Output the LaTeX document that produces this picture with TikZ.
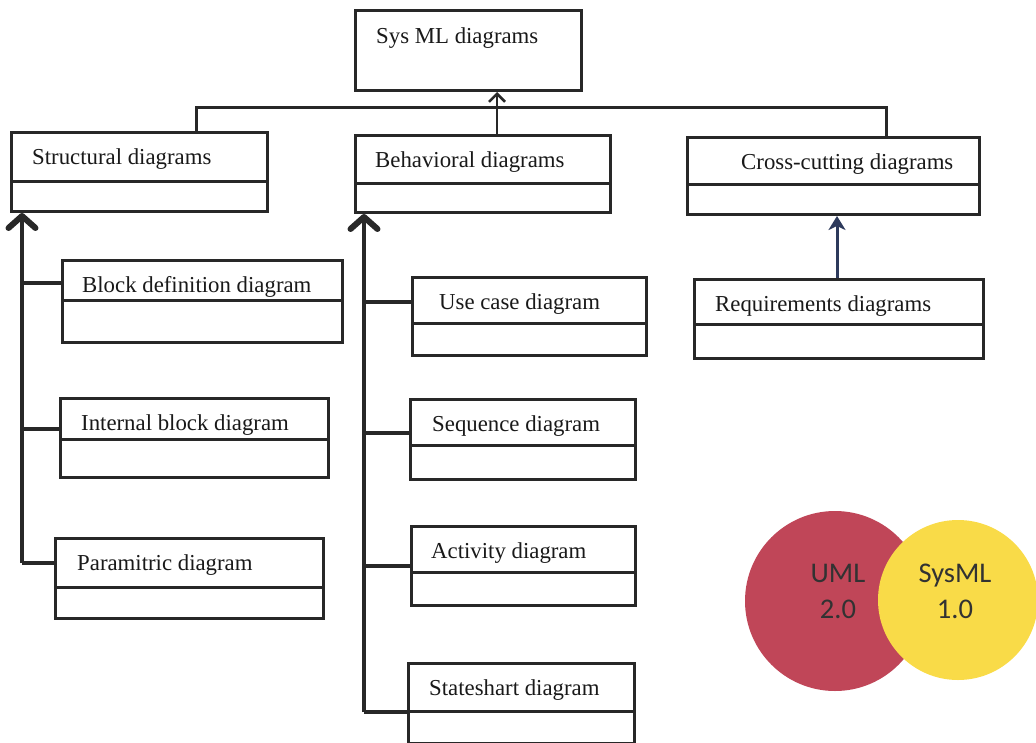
\documentclass[tikz,border=0pt]{standalone}
\usepackage{fontspec}
\setmainfont{Liberation Serif}
\newfontfamily\calibrifont{Carlito}
\usetikzlibrary{arrows.meta}

\definecolor{ink}{RGB}{40,40,40}
\definecolor{navyline}{RGB}{45,58,92}
\definecolor{umlred}{RGB}{192,70,88}
\definecolor{sysyellow}{RGB}{249,219,72}
\definecolor{circtext}{RGB}{50,50,50}

% class box: name, left, top, right, divider, bottom, text offset, label
\newcommand{\classbox}[8]{%
  \node[cls, minimum width={(#4-#2)*1pt}, minimum height={(#6-#3)*1pt}] (#1) at (#2,#3) {};
  \draw[divline] (#1.west |- 0,#5) -- (#1.east |- 0,#5);
  \node[lbl] (#1-t) at ({#2+#7},{#3+33}) {#8};
}

\begin{document}
\begin{tikzpicture}[x=1pt,y=-1pt,
  cls/.style={draw=ink, line width=3pt, anchor=north west, inner sep=0pt, fill=white},
  divline/.style={draw=ink, line width=3pt},
  lbl/.style={anchor=base west, inner sep=0pt, text=black!90, font=\fontsize{22.8}{26}\selectfont},
  trunk/.style={draw=ink, line width=3.5pt},
  fathead/.style={-{Straight Barb[length=12pt,width=27pt,line width=6pt,round]}},
  bus/.style={draw=ink, line width=3pt},
  thinarrow/.style={draw=ink, line width=2pt, -{Straight Barb[length=8pt,width=16pt,line width=2.5pt]}},
  navyarrow/.style={draw=navyline, line width=3pt, -{Stealth[length=14pt,width=17pt,inset=4pt]}},
  circlabel/.style={text=circtext, align=center, font=\calibrifont\fontsize{28.5}{36}\selectfont}
]
\useasboundingbox (0,0) rectangle (1036,742);

% root
\node[cls, minimum width=226pt, minimum height=80pt] (sys) at (354,9) {};
\node[lbl] (sys-t) at (376,43) {Sys ML diagrams};

% three categories
\classbox{sd}{10}{131}{266}{181}{210}{22}{Structural diagrams}
\classbox{bd}{354}{134}{609}{183}{211}{21}{Behavioral diagrams}
\classbox{cc}{686}{136}{978}{184}{213}{55}{Cross-cutting diagrams}

% structural children
\classbox{bdd}{61}{259}{341}{300}{341}{21}{Block definition diagram}
\classbox{ibd}{59}{397}{327}{439}{476}{22}{Internal block diagram}
\classbox{pd}{54}{537}{322}{587}{617}{23}{Paramitric diagram}

% behavioral children
\classbox{uc}{411}{276}{645}{323}{354}{28}{Use case diagram}
\classbox{seq}{409}{398}{634}{445}{478}{23}{Sequence diagram}
\classbox{act}{410}{525}{634}{572}{604}{21}{Activity diagram}
\classbox{stm}{407}{662}{633}{711}{742}{22}{Stateshart diagram}

% cross-cutting child
\classbox{req}{693}{278}{982}{324}{357}{22}{Requirements diagrams}

% bus joining the categories to the root
\coordinate (busL) at (196,107);
\coordinate (busR) at (886,107);
\coordinate (busM) at (497,0);
\draw[bus] (sd.north -| busL) -- (busL) -- (busR) -- (cc.north -| busR);
\draw[thinarrow] (bd.north -| busM) -- (sys.south -| busM);

% structural trunk
\coordinate (sj1) at (22,283);
\coordinate (sj2) at (22,429);
\coordinate (sj3) at (22,563);
\draw[trunk, fathead] (sj3) -- (sd.south -| sj3);
\draw[trunk] (sj1) -- (sj1 -| bdd.west);
\draw[trunk] (sj2) -- (sj2 -| ibd.west);
\draw[trunk] (sj3) -- (sj3 -| pd.west);

% behavioral trunk
\coordinate (bj1) at (364,302);
\coordinate (bj2) at (364,433);
\coordinate (bj3) at (364,566);
\coordinate (bj4) at (364,712);
\draw[trunk, fathead] (bj4) -- (bd.south -| bj4);
\draw[trunk] (bj1) -- (bj1 -| uc.west);
\draw[trunk] (bj2) -- (bj2 -| seq.west);
\draw[trunk] (bj3) -- (bj3 -| act.west);
\draw[trunk] (bj4) -- (bj4 -| stm.west);

% requirements to cross-cutting
\coordinate (rx) at (837,0);
\draw[navyarrow] (req.north -| rx) -- (cc.south -| rx);

% UML / SysML circles
\fill[umlred] (835,601) circle[radius=90];
\fill[sysyellow] (958,600) circle[radius=80];
\node[circlabel] (uml) at (838,591) {UML\\2.0};
\node[circlabel] (sysml) at (955,591) {SysML\\1.0};
\end{tikzpicture}
\end{document}
